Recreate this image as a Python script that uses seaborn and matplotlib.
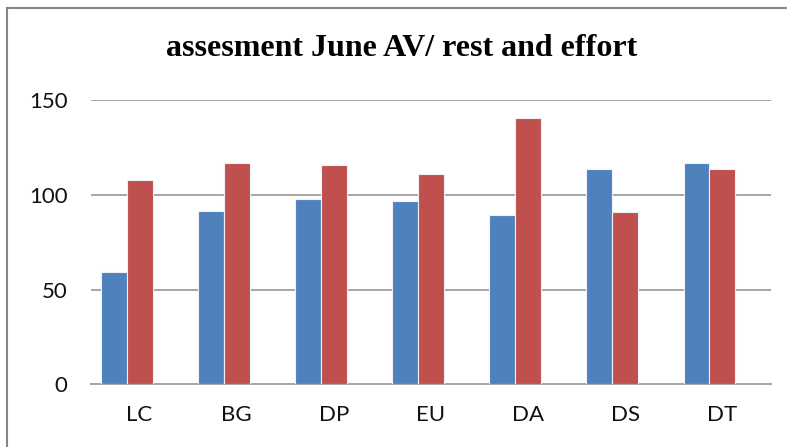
import numpy as np
import pandas as pd
import matplotlib
matplotlib.use("Agg")
import matplotlib.pyplot as plt
import seaborn as sns
from matplotlib.patches import Rectangle

# data
categories = ["LC", "BG", "DP", "EU", "DA", "DS", "DT"]
series1 = [59.5, 91.5, 97.6, 96.9, 89.5, 113.8, 116.6]
series2 = [107.8, 116.6, 115.9, 111.0, 140.4, 90.8, 113.8]
series3 = [np.nan] * 7  # empty third series, keeps Excel's slot
series_names = ["Series1", "Series2", "Series3"]
colors = ["#4F81BD", "#C0504D", "#9BBB59"]
y_ticks = [0, 50, 100, 150]

df = pd.DataFrame({
    "cat": categories * 3,
    "value": series1 + series2 + series3,
    "series": [s for s in series_names for _ in categories],
})

sns.set_style("white")
plt.rcParams["font.family"] = ["Lato", "DejaVu Sans"]

fig = plt.figure(figsize=(7.87, 4.47), dpi=100)
ax = fig.add_axes([91 / 787, 1 - 384.3 / 447, 680 / 787, 284.3 / 447])

sns.barplot(data=df, x="cat", y="value", hue="series", hue_order=series_names,
            palette=colors, order=categories, width=0.8, saturation=1, ax=ax,
            errorbar=None, linewidth=0.8, edgecolor="#eef2f8", zorder=3)
ax.legend_.remove()

ax.set_ylim(0, 150)
ax.set_xlim(-0.5, len(categories) - 0.5)
ax.set_yticks(y_ticks)
ax.yaxis.grid(True, color="#a6a6a6", linewidth=1.4, zorder=0)
ax.set_axisbelow(True)
for s in ["top", "right", "left"]:
    ax.spines[s].set_visible(False)
ax.spines["bottom"].set_color("#a6a6a6")
ax.spines["bottom"].set_linewidth(1.4)
ax.tick_params(axis="y", length=0, pad=17, labelsize=16, labelcolor="#111111")
ax.tick_params(axis="x", length=0, pad=15, labelsize=16, labelcolor="#111111")
ax.set_xlabel("")
ax.set_ylabel("")

fig.text(402 / 787, 1 - 48 / 447, "assesment June AV/ rest and effort",
         ha="center", va="center", fontsize=23, fontweight="bold", color="black",
         family=["Liberation Serif", "DejaVu Serif"])

# chart area border (cut off at right and bottom like the reference)
fig.patches.append(Rectangle((6.5 / 787, -0.1), 1.2, 1.1 - 8 / 447,
                             transform=fig.transFigure, fill=False,
                             edgecolor="#868686", linewidth=1.5))

fig.savefig("out.png", dpi=100)
